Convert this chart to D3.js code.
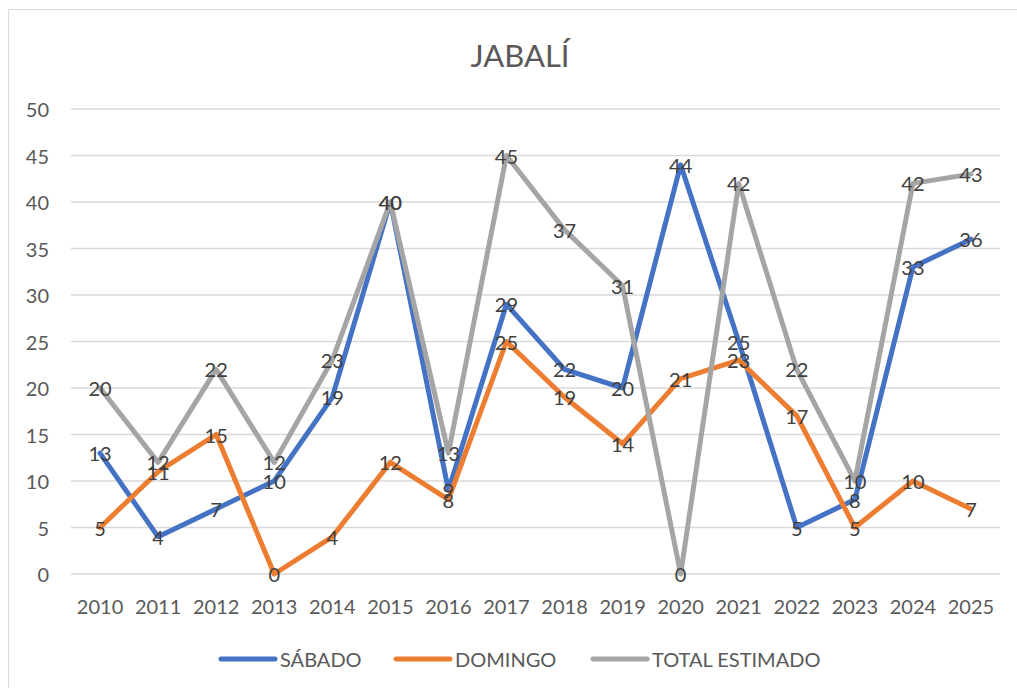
<!DOCTYPE html>
<meta charset="utf-8">
<style>
    body {
        margin: 0;
        background: #fff;
        font-family: Lato, "Liberation Sans", sans-serif;
    }

    .grid line {
        stroke: #d9d9d9;
        stroke-width: 1.5px;
    }

    .tick-label {
        fill: #595959;
        font-size: 20px;
    }

    .data-label {
        fill: #404040;
        font-size: 20px;
        text-anchor: middle;
        dominant-baseline: central;
    }
</style>

<body>
    <script src="https://cdn.jsdelivr.net/npm/d3@7"></script>

    <script>

        // data
        var years = ["2010", "2011", "2012", "2013", "2014", "2015", "2016", "2017",
            "2018", "2019", "2020", "2021", "2022", "2023", "2024", "2025"];
        var sabado = [13, 4, 7, 10, 19, 40, 9, 29, 22, 20, 44, 25, 5, 8, 33, 36];
        var domingo = [5, 11, 15, 0, 4, 12, 8, 25, 19, 14, 21, 23, 17, 5, 10, 7];
        var total = [20, 12, 22, 12, 23, 40, 13, 45, 37, 31, 0, 42, 22, 10, 42, 43];
        var yTicks = [0, 5, 10, 15, 20, 25, 30, 35, 40, 45, 50];

        var series = [
            { name: "SÁBADO", values: sabado, color: "#4472C4" },
            { name: "DOMINGO", values: domingo, color: "#ED7D31" },
            { name: "TOTAL ESTIMADO", values: total, color: "#A5A5A5" }
        ];

        var width = 1017,
            height = 688;

        var x = d3.scalePoint()
            .domain(years)
            .range([71, 1000])
            .padding(0.5);

        var y = d3.scaleLinear()
            .domain([0, 50])
            .range([574, 109]);

        var svg = d3.select("body").append("svg")
            .attr("width", width)
            .attr("height", height);

        // chart border
        svg.append("rect")
            .attr("x", 8.5)
            .attr("y", 9.5)
            .attr("width", width)
            .attr("height", height)
            .attr("fill", "none")
            .attr("stroke", "#d9d9d9")
            .attr("stroke-width", 1);

        svg.append("text")
            .attr("x", 520)
            .attr("y", 67)
            .attr("text-anchor", "middle")
            .attr("fill", "#595959")
            .style("font-size", "31px")
            .text("JABALÍ");

        // gridlines
        svg.append("g").attr("class", "grid")
            .selectAll("line")
            .data(yTicks)
            .enter().append("line")
            .attr("x1", 71)
            .attr("x2", 1000)
            .attr("y1", function (d) { return y(d); })
            .attr("y2", function (d) { return y(d); });

        svg.append("g")
            .selectAll("text")
            .data(yTicks)
            .enter().append("text")
            .attr("class", "tick-label")
            .attr("x", 49)
            .attr("y", function (d) { return y(d); })
            .attr("text-anchor", "end")
            .attr("dominant-baseline", "central")
            .text(function (d) { return d; });

        svg.append("g")
            .selectAll("text")
            .data(years)
            .enter().append("text")
            .attr("class", "tick-label")
            .attr("x", function (d) { return x(d); })
            .attr("y", 606)
            .attr("text-anchor", "middle")
            .attr("dominant-baseline", "central")
            .text(function (d) { return d; });

        var line = d3.line()
            .x(function (d, i) { return x(years[i]); })
            .y(function (d) { return y(d); });

        series.forEach(function (s) {
            svg.append("path")
                .attr("d", line(s.values))
                .attr("fill", "none")
                .attr("stroke", s.color)
                .attr("stroke-width", 5)
                .attr("stroke-linejoin", "round")
                .attr("stroke-linecap", "round");
        });

        series.forEach(function (s) {
            svg.append("g")
                .selectAll("text")
                .data(s.values)
                .enter().append("text")
                .attr("class", "data-label")
                .attr("x", function (d, i) { return x(years[i]); })
                .attr("y", function (d) { return y(d); })
                .text(function (d) { return d; });
        });

        // legend
        var legendX = [221, 396, 593];
        var legend = svg.append("g")
            .selectAll("g")
            .data(series)
            .enter().append("g")
            .attr("transform", function (d, i) { return "translate(" + legendX[i] + ",659)"; });

        legend.append("line")
            .attr("x1", 0)
            .attr("x2", 54)
            .attr("stroke", function (d) { return d.color; })
            .attr("stroke-width", 5)
            .attr("stroke-linecap", "round");

        legend.append("text")
            .attr("class", "tick-label")
            .attr("x", 59)
            .attr("dominant-baseline", "central")
            .text(function (d) { return d.name; });

    </script>

</body>

</html>
